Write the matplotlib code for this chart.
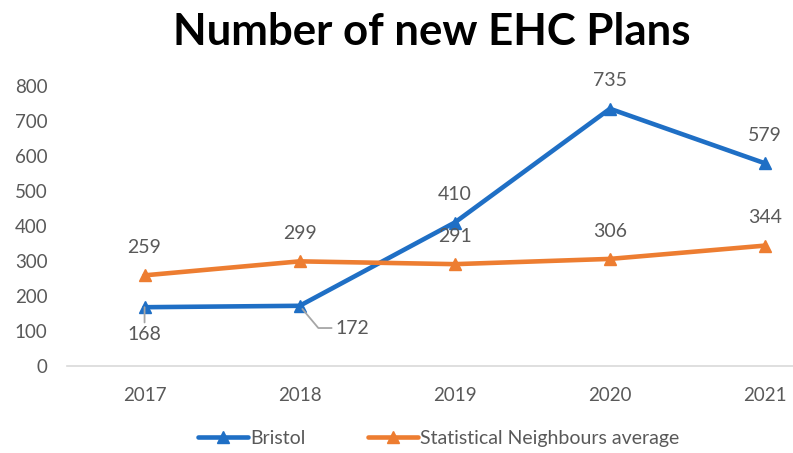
import matplotlib
matplotlib.use('Agg')
import matplotlib.pyplot as plt

years = ['2017', '2018', '2019', '2020', '2021']
bristol = [168, 172, 410, 735, 579]
neighbours = [259, 299, 291, 306, 344]
yticks = [0, 100, 200, 300, 400, 500, 600, 700, 800]

blue = '#1F6FC5'
orange = '#ED7D31'
grey = '#595959'

plt.rcParams['font.family'] = ['Lato', 'DejaVu Sans']

fig = plt.figure(figsize=(7.93, 4.53), dpi=100, facecolor='white')
ax = fig.add_axes([67 / 793, 1 - 366 / 453, 1 - 67 / 793, (366 - 86) / 453])

x = list(range(len(years)))
ax.plot(x, bristol, color=blue, linewidth=3.3, marker='^', markersize=8.5,
        label='Bristol', solid_capstyle='round', zorder=3)
ax.plot(x, neighbours, color=orange, linewidth=3.3, marker='^', markersize=8.5,
        label='Statistical Neighbours average', solid_capstyle='round', zorder=3)

ax.set_xlim(-0.5, 4.18)
ax.set_ylim(0, 800)
ax.set_xticks(x)
ax.set_xticklabels(years)
ax.set_yticks(yticks)
ax.tick_params(axis='both', length=0, colors=grey, labelsize=13.5)
ax.tick_params(axis='x', pad=15)
ax.tick_params(axis='y', pad=14)
for side in ['top', 'right', 'left']:
    ax.spines[side].set_visible(False)
ax.spines['bottom'].set_color('#D9D9D9')
ax.spines['bottom'].set_linewidth(1.2)

lab = dict(color=grey, fontsize=14, ha='center', va='center')
# Bristol labels (first two sit below the line with leader lines)
ax.annotate(str(bristol[0]), (0, bristol[0]), xytext=(0, -20), textcoords='offset points',
            arrowprops=dict(arrowstyle='-', color='#A6A6A6', lw=1.3,
                            shrinkA=9, shrinkB=0, patchA=None),
            **lab)
ax.annotate(str(bristol[1]), (1, bristol[1]), xytext=(38, -16), textcoords='offset points',
            arrowprops=dict(arrowstyle='-', color='#A6A6A6', lw=1.3,
                            shrinkA=15, shrinkB=3, patchA=None,
                            connectionstyle='angle,angleA=0,angleB=-50,rad=0'),
            **lab)
for i in [2, 3, 4]:
    ax.annotate(str(bristol[i]), (i, bristol[i]), xytext=(0, 20), textcoords='offset points', **lab)
for i in range(5):
    ax.annotate(str(neighbours[i]), (i, neighbours[i]), xytext=(0, 20), textcoords='offset points', **lab)

fig.text(0.545, 0.93, 'Number of new EHC Plans', ha='center', va='center',
         fontsize=31.5, fontweight='bold', color='black')

leg = fig.legend(loc='center', bbox_to_anchor=(0.553, 0.032), ncol=2, frameon=False,
                 fontsize=14, handlelength=2.6, handletextpad=0.1, columnspacing=3.2)
for t in leg.get_texts():
    t.set_color(grey)

fig.savefig('out.png', dpi=100, facecolor='white')
